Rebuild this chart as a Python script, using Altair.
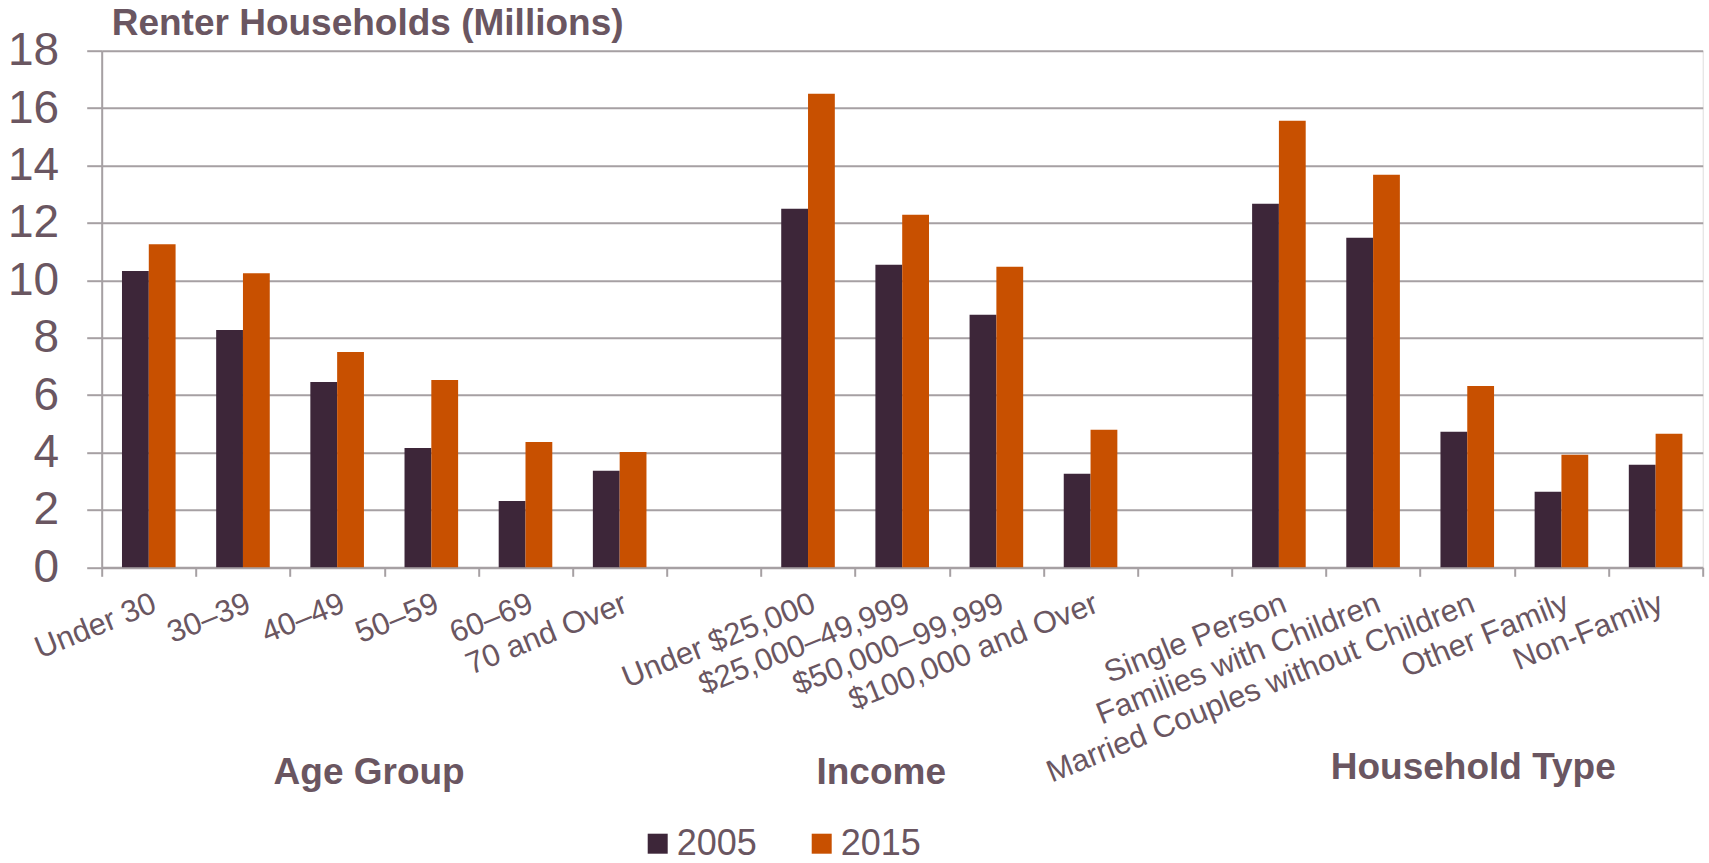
import altair as alt
import pandas as pd

# ---- data ----
categories = [
    "Under 30", "30–39", "40–49", "50–59", "60–69", "70 and Over",
    "gap1",
    "Under $25,000", "$25,000–49,999", "$50,000–99,999", "$100,000 and Over",
    "gap2",
    "Single Person", "Families with Children", "Married Couples without Children",
    "Other Family", "Non-Family",
]
values_2005 = [10.32, 8.27, 6.46, 4.16, 2.31, 3.36,
               None,
               12.49, 10.54, 8.80, 3.26,
               None,
               12.67, 11.48, 4.72, 2.63, 3.57]
values_2015 = [11.26, 10.25, 7.50, 6.53, 4.37, 4.02,
               None,
               16.50, 12.28, 10.47, 4.79,
               None,
               15.56, 13.68, 6.32, 3.92, 4.65]
years = ["2005", "2015"]
colors = ["#3d2639", "#c85000"]

group_titles = ["Age Group", "Income", "Household Type"]
group_anchor = ["40–49", "$25,000–49,999", "Married Couples without Children"]
group_dx = [32, -21, 6]
group_y = [733, 733, 728]

y_ticks = [0, 2, 4, 6, 8, 10, 12, 14, 16, 18]

# ---- build table ----
rows = []
for c, a, b in zip(categories, values_2005, values_2015):
    if a is not None:
        rows.append({"cat": c, "year": "2005", "value": a})
        rows.append({"cat": c, "year": "2015", "value": b})
df = pd.DataFrame(rows)

FONT = "Liberation Sans"
TXT = "#6a5661"
GRID = "#a6a0a3"

xscale = alt.Scale(domain=categories, paddingInner=0, paddingOuter=0)
xaxis = alt.Axis(
    title=None, tickBand="extent", grid=False,
    domain=True, domainColor=GRID, domainWidth=2,
    ticks=True, tickColor=GRID, tickWidth=2, tickSize=9,
    labelAngle=-22, labelAlign="right", labelBaseline="top",
    labelPadding=12, labelFontSize=31, labelFont=FONT,
    labelColor=TXT, labelLimit=0, labelOverlap=False,
    labelExpr="slice(datum.label, 0, 3) == 'gap' ? '' : datum.label",
)

bars = alt.Chart(df).mark_bar(strokeWidth=0).encode(
    x=alt.X("cat:N", scale=xscale, sort=categories, axis=xaxis),
    xOffset=alt.XOffset("year:N", scale=alt.Scale(domain=years, paddingInner=0, paddingOuter=0.757)),
    y=alt.Y("value:Q", scale=alt.Scale(domain=[0, 18], nice=False),
            axis=alt.Axis(
                title=None, values=y_ticks, grid=True, gridColor=GRID, gridWidth=2,
                domain=True, domainColor=GRID, domainWidth=2,
                ticks=True, tickColor=GRID, tickWidth=2, tickSize=15,
                labelFontSize=46, labelFont=FONT, labelColor=TXT, labelPadding=28,
                labelBaseline="middle",
            )),
    color=alt.Color("year:N", scale=alt.Scale(domain=years, range=colors),
                    legend=alt.Legend(
                        title=None, orient="none", direction="horizontal",
                        legendX=538, legendY=775, padding=0,
                        symbolType="square", symbolSize=400, symbolStrokeWidth=0,
                        labelFontSize=36, labelFont=FONT, labelColor=TXT,
                        labelOffset=1, columnPadding=46, symbolOpacity=1,
                    )),
)

layers = [bars]
for t, a, dx, yy in zip(group_titles, group_anchor, group_dx, group_y):
    tdf = pd.DataFrame({"cat": [a], "label": [t]})
    layers.append(
        alt.Chart(tdf).mark_text(
            font=FONT, fontSize=37, fontWeight="bold", color=TXT,
            align="center", baseline="alphabetic", dx=dx,
        ).encode(
            x=alt.X("cat:N", scale=xscale, sort=categories, axis=xaxis),
            y=alt.value(yy),
            text="label:N",
        )
    )

chart = alt.layer(*layers).properties(
    width=1601, height=516.6,
    autosize=alt.AutoSizeParams(type="none"),
    padding={"left": 101.7, "top": 50.7, "right": 6.3, "bottom": 295.7},
    title=alt.Title("Renter Households (Millions)", anchor="start", frame="group",
                    fontSize=37, font=FONT, fontWeight="bold", color=TXT,
                    dx=10, offset=-15),
).configure_view(stroke=None).configure(background="white")

chart.save("out.html", embed_options={"renderer": "svg", "actions": False})
